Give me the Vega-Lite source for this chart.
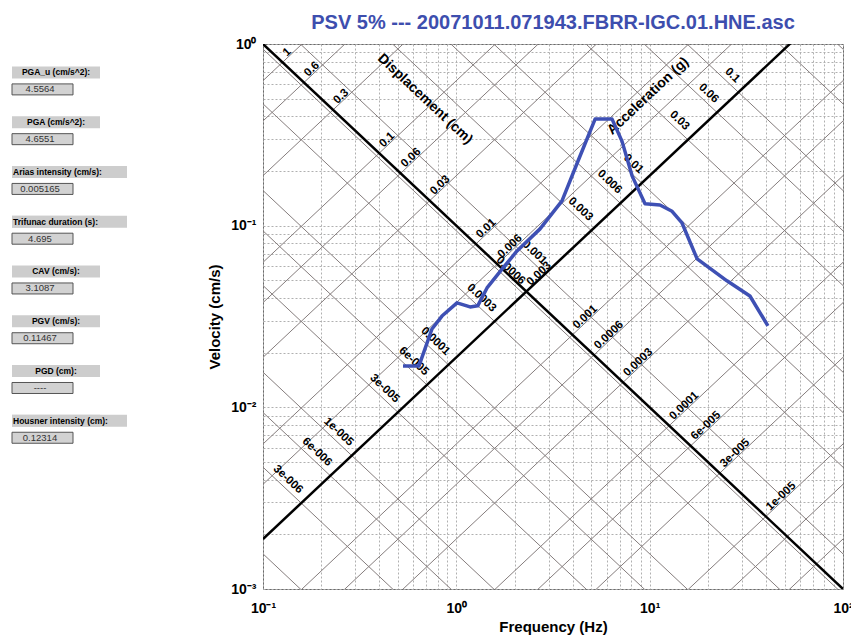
{
  "$schema": "https://vega.github.io/schema/vega-lite/v6.json",
  "padding": {"left": 0, "top": 12, "right": 0, "bottom": 0},
  "background": "white",
  "bounds": "flush",
  "spacing": 63,
  "config": {"font": "Liberation Sans", "view": {"stroke": null}},
  "datasets": {
    "diag": [
      {"id": "d1", "f": 0.1, "v": 0.62832}, {"id": "d1", "f": 100, "v": 628.32},
      {"id": "d0.6", "f": 0.1, "v": 0.37699}, {"id": "d0.6", "f": 100, "v": 376.99},
      {"id": "d0.3", "f": 0.1, "v": 0.188496}, {"id": "d0.3", "f": 100, "v": 188.496},
      {"id": "d0.1", "f": 0.1, "v": 0.062832}, {"id": "d0.1", "f": 100, "v": 62.832},
      {"id": "d0.06", "f": 0.1, "v": 0.037699}, {"id": "d0.06", "f": 100, "v": 37.699},
      {"id": "d0.03", "f": 0.1, "v": 0.0188496}, {"id": "d0.03", "f": 100, "v": 18.8496},
      {"id": "d0.01", "f": 0.1, "v": 0.0062832}, {"id": "d0.01", "f": 100, "v": 6.2832},
      {"id": "d0.006", "f": 0.1, "v": 0.0037699}, {"id": "d0.006", "f": 100, "v": 3.7699},
      {"id": "d0.003", "f": 0.1, "v": 0.00188496}, {"id": "d0.003", "f": 100, "v": 1.88496},
      {"id": "d0.001", "f": 0.1, "v": 0.00062832}, {"id": "d0.001", "f": 100, "v": 0.62832},
      {"id": "d6e-4", "f": 0.1, "v": 0.00037699}, {"id": "d6e-4", "f": 100, "v": 0.37699},
      {"id": "d3e-4", "f": 0.1, "v": 0.000188496}, {"id": "d3e-4", "f": 100, "v": 0.188496},
      {"id": "d1e-4", "f": 0.1, "v": 0.000062832}, {"id": "d1e-4", "f": 100, "v": 0.062832},
      {"id": "d6e-5", "f": 0.1, "v": 0.000037699}, {"id": "d6e-5", "f": 100, "v": 0.037699},
      {"id": "d3e-5", "f": 0.1, "v": 0.0000188496}, {"id": "d3e-5", "f": 100, "v": 0.0188496},
      {"id": "d1e-5", "f": 0.1, "v": 0.0000062832}, {"id": "d1e-5", "f": 100, "v": 0.0062832},
      {"id": "d6e-6", "f": 0.1, "v": 0.0000037699}, {"id": "d6e-6", "f": 100, "v": 0.0037699},
      {"id": "d3e-6", "f": 0.1, "v": 0.00000188496}, {"id": "d3e-6", "f": 100, "v": 0.00188496},
      {"id": "a0.6", "f": 0.1, "v": 936.8}, {"id": "a0.6", "f": 100, "v": 0.93679},
      {"id": "a0.3", "f": 0.1, "v": 468.4}, {"id": "a0.3", "f": 100, "v": 0.46839},
      {"id": "a0.1", "f": 0.1, "v": 156.13}, {"id": "a0.1", "f": 100, "v": 0.15613},
      {"id": "a0.06", "f": 0.1, "v": 93.68}, {"id": "a0.06", "f": 100, "v": 0.093679},
      {"id": "a0.03", "f": 0.1, "v": 46.84}, {"id": "a0.03", "f": 100, "v": 0.046839},
      {"id": "a0.01", "f": 0.1, "v": 15.613}, {"id": "a0.01", "f": 100, "v": 0.015613},
      {"id": "a0.006", "f": 0.1, "v": 9.368}, {"id": "a0.006", "f": 100, "v": 0.0093679},
      {"id": "a0.003", "f": 0.1, "v": 4.684}, {"id": "a0.003", "f": 100, "v": 0.0046839},
      {"id": "a0.001", "f": 0.1, "v": 1.5613}, {"id": "a0.001", "f": 100, "v": 0.0015613},
      {"id": "a6e-4", "f": 0.1, "v": 0.93679}, {"id": "a6e-4", "f": 100, "v": 0.00093679},
      {"id": "a3e-4", "f": 0.1, "v": 0.46839}, {"id": "a3e-4", "f": 100, "v": 0.00046839},
      {"id": "a1e-4", "f": 0.1, "v": 0.15613}, {"id": "a1e-4", "f": 100, "v": 0.00015613},
      {"id": "a6e-5", "f": 0.1, "v": 0.093679}, {"id": "a6e-5", "f": 100, "v": 0.000093679},
      {"id": "a3e-5", "f": 0.1, "v": 0.046839}, {"id": "a3e-5", "f": 100, "v": 0.000046839},
      {"id": "a1e-5", "f": 0.1, "v": 0.015613}, {"id": "a1e-5", "f": 100, "v": 0.000015613},
      {"id": "a6e-6", "f": 0.1, "v": 0.0093679}, {"id": "a6e-6", "f": 100, "v": 0.0000093679},
      {"id": "a3e-6", "f": 0.1, "v": 0.0046839}, {"id": "a3e-6", "f": 100, "v": 0.0000046839},
      {"id": "a1e-6", "f": 0.1, "v": 0.0015613}, {"id": "a1e-6", "f": 100, "v": 0.0000015613}
    ],
    "thick": [
      {"id": "acc", "f": 0.1, "v": 1}, {"id": "acc", "f": 100, "v": 0.001},
      {"id": "disp", "f": 0.1, "v": 0.00188496}, {"id": "disp", "f": 100, "v": 1.88496}
    ],
    "dispLabels": [
      {"f": 0.12616, "v": 0.79267, "text": "1"},
      {"f": 0.16287, "v": 0.61399, "text": "0.6"},
      {"f": 0.23033, "v": 0.43416, "text": "0.3"},
      {"f": 0.39894, "v": 0.25066, "text": "0.1"},
      {"f": 0.51503, "v": 0.19416, "text": "0.06"},
      {"f": 0.72836, "v": 0.13729, "text": "0.03"},
      {"f": 1.26156, "v": 0.079267, "text": "0.01"},
      {"f": 1.62868, "v": 0.061399, "text": "0.006"},
      {"f": 2.30326, "v": 0.043417, "text": "0.003"},
      {"f": 3.98937, "v": 0.025067, "text": "0.001"},
      {"f": 5.15034, "v": 0.019416, "text": "0.0006"},
      {"f": 7.28354, "v": 0.01373, "text": "0.0003"},
      {"f": 12.6155, "v": 0.0079268, "text": "0.0001"},
      {"f": 16.2868, "v": 0.00614, "text": "6e-005"},
      {"f": 23.0326, "v": 0.0043417, "text": "3e-005"},
      {"f": 39.894, "v": 0.0025066, "text": "1e-005"}
    ],
    "accLabels": [
      {"f": 28.78, "v": 0.54249, "text": "0.1"},
      {"f": 22.293, "v": 0.42021, "text": "0.06"},
      {"f": 15.764, "v": 0.29714, "text": "0.03"},
      {"f": 9.101, "v": 0.17155, "text": "0.01"},
      {"f": 7.0497, "v": 0.13288, "text": "0.006"},
      {"f": 4.9849, "v": 0.093962, "text": "0.003"},
      {"f": 2.878, "v": 0.054249, "text": "0.001"},
      {"f": 2.2293, "v": 0.042021, "text": "0.0006"},
      {"f": 1.5764, "v": 0.029714, "text": "0.0003"},
      {"f": 0.9101, "v": 0.017155, "text": "0.0001"},
      {"f": 0.70497, "v": 0.013288, "text": "6e-005"},
      {"f": 0.49849, "v": 0.0093962, "text": "3e-005"},
      {"f": 0.2878, "v": 0.0054249, "text": "1e-005"},
      {"f": 0.22293, "v": 0.0042021, "text": "6e-006"},
      {"f": 0.15764, "v": 0.0029714, "text": "3e-006"}
    ],
    "psv": [
      {"f": 0.53, "v": 0.0169}, {"f": 0.641, "v": 0.0169}, {"f": 0.748, "v": 0.027},
      {"f": 0.843, "v": 0.0318}, {"f": 1.008, "v": 0.0376}, {"f": 1.178, "v": 0.0357},
      {"f": 1.29, "v": 0.0362}, {"f": 1.441, "v": 0.0454}, {"f": 1.744, "v": 0.0585},
      {"f": 2.06, "v": 0.0726}, {"f": 2.71, "v": 0.096}, {"f": 3.52, "v": 0.137},
      {"f": 4.26, "v": 0.227}, {"f": 5.22, "v": 0.386}, {"f": 6.39, "v": 0.386},
      {"f": 7.19, "v": 0.292}, {"f": 8.11, "v": 0.188}, {"f": 9.46, "v": 0.132},
      {"f": 11.3, "v": 0.13}, {"f": 13.06, "v": 0.12}, {"f": 14.7, "v": 0.1035},
      {"f": 17.6, "v": 0.0656}, {"f": 25.1, "v": 0.0497}, {"f": 33.0, "v": 0.041},
      {"f": 40.9, "v": 0.0281}
    ],
    "panel": [
      {"row": 0, "label": "PGA_u (cm/s^2):", "value": "4.5564"},
      {"row": 1, "label": "PGA (cm/s^2):", "value": "4.6551"},
      {"row": 2, "label": "Arias intensity  (cm/s):", "value": "0.005165"},
      {"row": 3, "label": "Trifunac duration (s):", "value": "4.695"},
      {"row": 4, "label": "CAV (cm/s):", "value": "3.1087"},
      {"row": 5, "label": "PGV (cm/s):", "value": "0.11467"},
      {"row": 6, "label": "PGD (cm):", "value": "----"},
      {"row": 7, "label": "Housner intensity (cm):", "value": "0.12314"}
    ]
  },
  "hconcat": [
    {
      "width": 200,
      "height": 545,
      "data": {"name": "panel"},
      "encoding": {
        "y": {"field": "row", "type": "quantitative", "scale": {"domain": [-0.47, 10.28], "reverse": true, "nice": false, "zero": false}, "axis": null}
      },
      "layer": [
        {
          "mark": {"type": "bar", "orient": "horizontal", "height": 12, "fill": "#cdcdcd"},
          "encoding": {
            "x": {"datum": 12, "type": "quantitative", "scale": {"domain": [0, 200], "nice": false, "zero": false}, "axis": null},
            "x2": {"datum": 100}
          }
        },
        {
          "transform": [{"filter": "length(datum.label) >= 22"}],
          "mark": {"type": "bar", "orient": "horizontal", "height": 12, "fill": "#cdcdcd"},
          "encoding": {
            "x": {"datum": 12, "type": "quantitative"},
            "x2": {"datum": 127}
          }
        },
        {
          "transform": [{"filter": "length(datum.label) < 22"}],
          "mark": {"type": "text", "fontWeight": "bold", "fontSize": 8.5, "align": "center", "baseline": "middle", "color": "black"},
          "encoding": {"x": {"datum": 56, "type": "quantitative"}, "text": {"field": "label"}}
        },
        {
          "transform": [{"filter": "length(datum.label) >= 22"}],
          "mark": {"type": "text", "fontWeight": "bold", "fontSize": 8.5, "align": "left", "baseline": "middle", "color": "black"},
          "encoding": {"x": {"datum": 13, "type": "quantitative"}, "text": {"field": "label"}}
        },
        {
          "mark": {"type": "bar", "orient": "horizontal", "height": 11, "yOffset": 17, "fill": "#d2d2d2", "stroke": "#555555", "strokeWidth": 1},
          "encoding": {
            "x": {"datum": 12, "type": "quantitative"},
            "x2": {"datum": 73}
          }
        },
        {
          "mark": {"type": "text", "fontSize": 9.5, "align": "center", "baseline": "middle", "dy": 17, "color": "#333333"},
          "encoding": {"x": {"datum": 40, "type": "quantitative"}, "text": {"field": "value"}}
        }
      ]
    },
    {
      "width": 580,
      "height": 545,
      "view": {"stroke": "#6a6a6a", "strokeWidth": 1},
      "title": {
        "text": "PSV 5% --- 20071011.071943.FBRR-IGC.01.HNE.asc",
        "fontSize": 20,
        "fontWeight": "bold",
        "color": "#3d4eae",
        "anchor": "middle",
        "frame": "group",
        "offset": -12,
        "baseline": "alphabetic"
      },
      "layer": [
        {
          "data": {"name": "diag"},
          "mark": {"type": "line", "clip": true, "color": "#857d7d", "strokeWidth": 1},
          "encoding": {
            "x": {
              "field": "f", "type": "quantitative",
              "scale": {"type": "log", "domain": [0.1, 100], "nice": false},
              "axis": {
                "values": [0.1, 0.2, 0.3, 0.4, 0.5, 0.6, 0.7, 0.8, 0.9, 1, 2, 3, 4, 5, 6, 7, 8, 9, 10, 20, 30, 40, 50, 60, 70, 80, 90, 100],
                "grid": true, "gridColor": "#b0b0b0", "gridDash": [2, 2], "gridWidth": 1,
                "ticks": false, "domain": false,
                "labelExpr": "datum.value == 0.1 ? '10⁻¹' : datum.value == 1 ? '10⁰' : datum.value == 10 ? '10¹' : datum.value == 100 ? '10²' : ''",
                "labelFontSize": 14, "labelFontWeight": "bold", "labelColor": "black", "labelPadding": 12,
                "labelOverlap": false, "labelFlush": false, "labelBound": false,
                "title": "Frequency (Hz)", "titleFontSize": 15, "titleFontWeight": "bold", "titleColor": "black", "titlePadding": 4
              }
            },
            "y": {
              "field": "v", "type": "quantitative",
              "scale": {"type": "log", "domain": [0.001, 1], "nice": false},
              "axis": {
                "values": [0.001, 0.002, 0.003, 0.004, 0.005, 0.006, 0.007, 0.008, 0.009, 0.01, 0.02, 0.03, 0.04, 0.05, 0.06, 0.07, 0.08, 0.09, 0.1, 0.2, 0.3, 0.4, 0.5, 0.6, 0.7, 0.8, 0.9, 1],
                "grid": true, "gridColor": "#b0b0b0", "gridDash": [2, 2], "gridWidth": 1,
                "ticks": false, "domain": false,
                "labelExpr": "datum.value == 1 ? '10⁰' : datum.value == 0.1 ? '10⁻¹' : datum.value == 0.01 ? '10⁻²' : datum.value == 0.001 ? '10⁻³' : ''",
                "labelFontSize": 14, "labelFontWeight": "bold", "labelColor": "black", "labelPadding": 7,
                "labelOverlap": false, "labelFlush": false, "labelBound": false,
                "title": "Velocity (cm/s)", "titleFontSize": 15, "titleFontWeight": "bold", "titleColor": "black", "titlePadding": 8
              }
            },
            "detail": {"field": "id"}
          }
        },
        {
          "data": {"name": "thick"},
          "mark": {"type": "line", "clip": true, "color": "black", "strokeWidth": 2.5},
          "encoding": {
            "x": {"field": "f", "type": "quantitative"},
            "y": {"field": "v", "type": "quantitative"},
            "detail": {"field": "id"}
          }
        },
        {
          "data": {"name": "dispLabels"},
          "mark": {"type": "text", "angle": -43.3, "align": "left", "baseline": "middle", "dx": 7, "dy": -4, "fontSize": 11.5, "fontWeight": "bold", "color": "black"},
          "encoding": {
            "x": {"field": "f", "type": "quantitative"},
            "y": {"field": "v", "type": "quantitative"},
            "text": {"field": "text"}
          }
        },
        {
          "data": {"name": "accLabels"},
          "mark": {"type": "text", "angle": 43.3, "align": "right", "baseline": "middle", "dx": -8, "dy": -8, "fontSize": 11.5, "fontWeight": "bold", "color": "black"},
          "encoding": {
            "x": {"field": "f", "type": "quantitative"},
            "y": {"field": "v", "type": "quantitative"},
            "text": {"field": "text"}
          }
        },
        {
          "data": {"values": [{"f": 0.689, "v": 0.498, "text": "Displacement (cm)"}]},
          "mark": {"type": "text", "angle": 43.3, "align": "center", "baseline": "middle", "fontSize": 14, "fontWeight": "bold", "color": "black"},
          "encoding": {
            "x": {"field": "f", "type": "quantitative"},
            "y": {"field": "v", "type": "quantitative"},
            "text": {"field": "text"}
          }
        },
        {
          "data": {"values": [{"f": 9.81, "v": 0.517, "text": "Acceleration (g)"}]},
          "mark": {"type": "text", "angle": -43.3, "align": "center", "baseline": "middle", "fontSize": 14, "fontWeight": "bold", "color": "black"},
          "encoding": {
            "x": {"field": "f", "type": "quantitative"},
            "y": {"field": "v", "type": "quantitative"},
            "text": {"field": "text"}
          }
        },
        {
          "data": {"name": "psv"},
          "mark": {"type": "line", "clip": true, "color": "#3e50b4", "strokeWidth": 3.5, "strokeJoin": "round"},
          "encoding": {
            "x": {"field": "f", "type": "quantitative"},
            "y": {"field": "v", "type": "quantitative"}
          }
        }
      ]
    }
  ]
}
